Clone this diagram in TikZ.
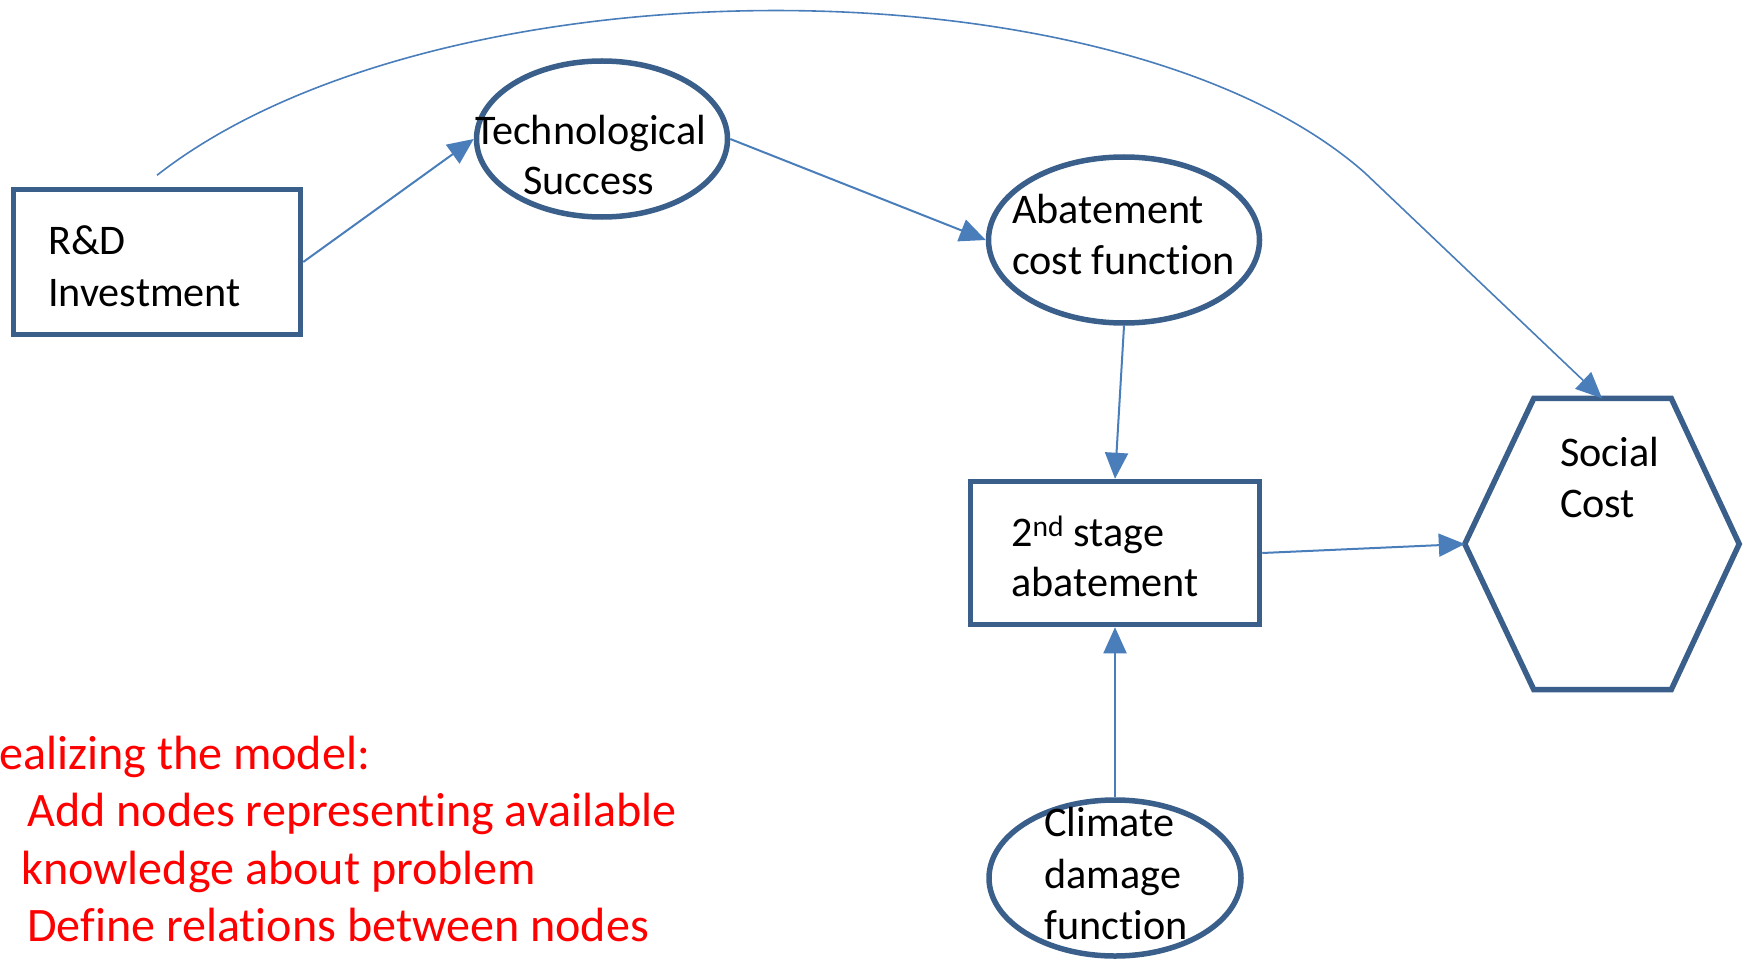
\documentclass[tikz,border=0pt]{standalone}
\usepackage{fontspec}
\setmainfont{Carlito}[Ligatures=NoCommon]
\usetikzlibrary{shapes.geometric,arrows.meta,calc}
\definecolor{bord}{HTML}{3A5F8B}
\definecolor{linkblue}{HTML}{4A7EBB}
\begin{document}
\begin{tikzpicture}[x=1pt,y=-1pt,
  box/.style={draw=bord, line width=5.5pt, rectangle, inner sep=0pt},
  oval/.style={draw=bord, line width=5.5pt, ellipse, inner sep=0pt},
  lbl/.style={font=\fontsize{42.2}{51}\selectfont, anchor=base west, inner sep=0pt},
  redlbl/.style={font=\fontsize{48.1}{57.5}\selectfont, text=red, anchor=base west, inner sep=0pt},
  link/.style={draw=linkblue, line width=2pt, -{Triangle[length=26pt,width=23pt]}},
  thinlink/.style={draw=linkblue, line width=1.6pt, -{Triangle[length=26pt,width=23pt]}}]
\useasboundingbox (0,0) rectangle (1747,960);

% shapes
\node[box, minimum width=287pt, minimum height=145pt] (rd) at (157,262) {};
\node[oval, minimum width=251pt, minimum height=156pt] (ts) at (602,139) {};
\node[oval, minimum width=271pt, minimum height=166pt] (ac) at (1124,240) {};
\node[box, minimum width=289pt, minimum height=143pt] (sa) at (1115,553) {};
\node[oval, minimum width=252pt, minimum height=156pt] (cd) at (1115,878) {};
\node[minimum width=274pt, minimum height=291pt, inner sep=0pt] (sc) at (1602,544) {};
\draw[draw=bord, line width=5.5pt, line join=miter]
  (sc.west) -- ($(sc.north west)+(69,0)$) -- ($(sc.north east)+(-68,0)$) -- (sc.east)
  -- ($(sc.south east)+(-68,0)$) -- ($(sc.south west)+(69,0)$) -- cycle;

% labels
\node[lbl] (rd1) at (48,254) {R\&D};
\node[lbl] (rd2) at (48,306) {Investment};
\node[lbl] (ts1) at (475,145) {Technological};
\node[lbl] (ts2) at (523,194) {Success};
\node[lbl] (ac1) at (1012,223) {Abatement};
\node[lbl] (ac2) at (1012,274) {cost function};
\node[lbl] (sa1) at (1011,546) {2\textsuperscript{nd} stage};
\node[lbl] (sa2) at (1011,596) {abatement};
\node[lbl] (sc1) at (1560,466) {Social};
\node[lbl] (sc2) at (1560,517) {Cost};
\node[lbl] (cd1) at (1044,836) {Climate};
\node[lbl] (cd2) at (1044,888) {damage};
\node[lbl] (cd3) at (1044,939) {function};

\node[redlbl] (r1) at (-1,769) {ealizing the model:};
\node[redlbl] (r2) at (27,826) {Add nodes representing available};
\node[redlbl] (r3) at (21,884) {knowledge about problem};
\node[redlbl] (r4) at (27,941) {Define relations between nodes};

% connectors
\draw[link] (rd.east) -- (ts.west);
\draw[link] (ts.east) -- (ac.west);
\draw[link] (ac.south) -- (sa.north);
\draw[link] (sa.east) -- (sc.west);
\draw[link] (cd.north) -- (sa.south);
\coordinate (bend) at (1365,173);
\draw[thinlink] ([yshift=11.5pt]rd.north) .. controls (437,-44) and (1120,-44) .. (bend) -- (sc.north);
\end{tikzpicture}
\end{document}
